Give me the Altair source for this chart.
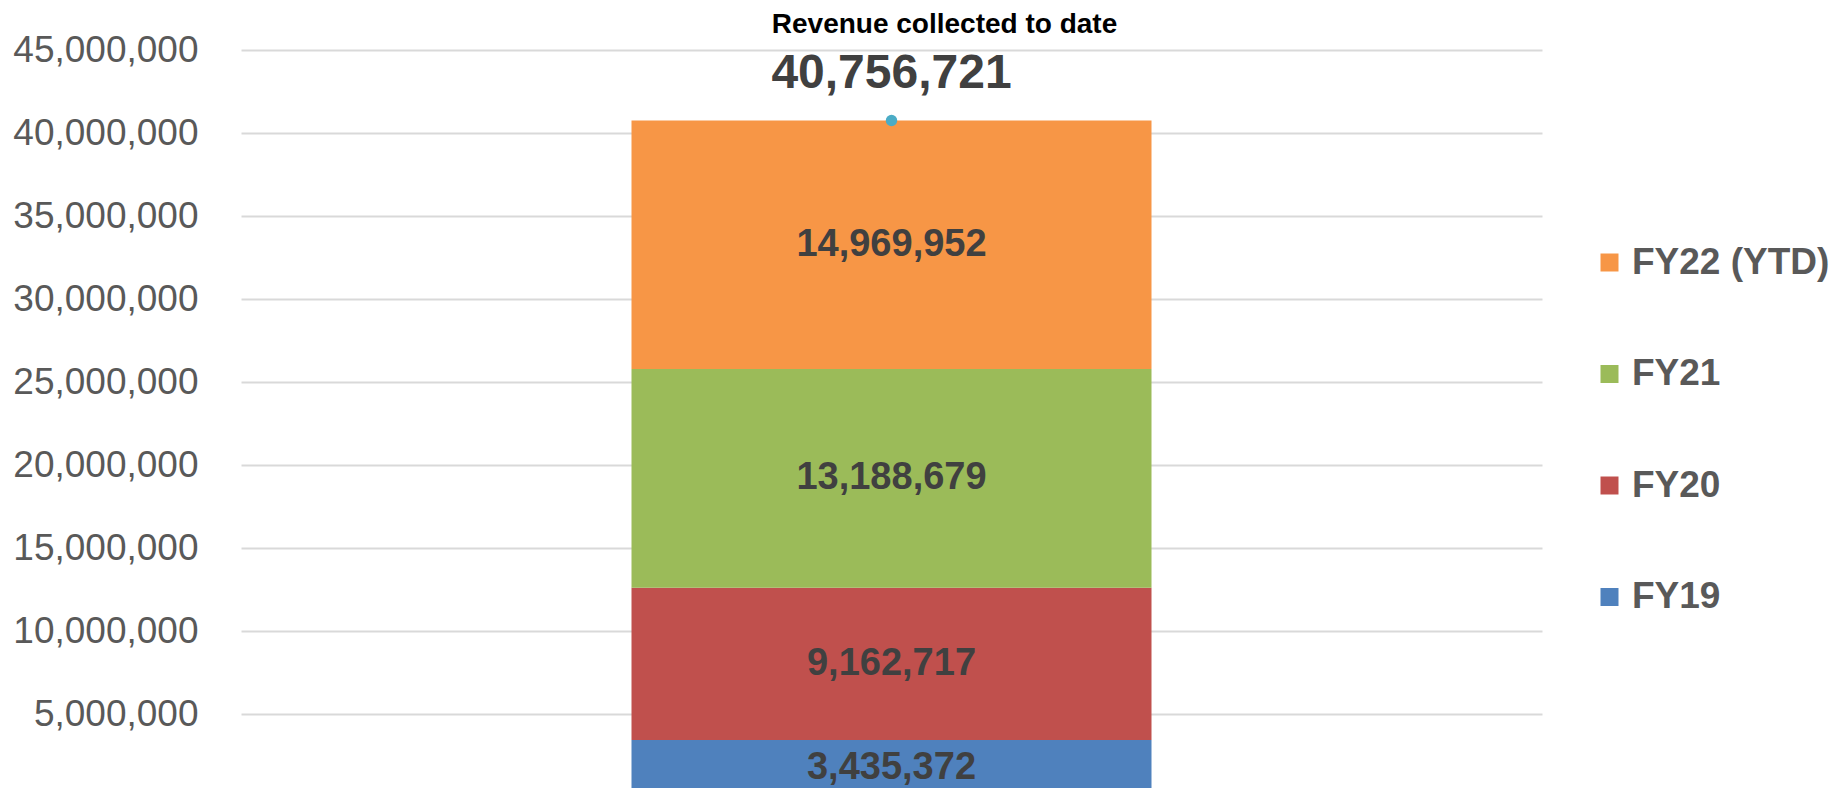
import altair as alt
import pandas as pd

categories = ["FY19", "FY20", "FY21", "FY22 (YTD)"]
values = [3435372, 9162717, 13188679, 14969952]
order_idx = [0, 1, 2, 3]
total_value = [40756721]
colors = ["#4F81BD", "#C0504D", "#9BBB59", "#F79646"]
tick_values = [5000000, 10000000, 15000000, 20000000, 25000000,
               30000000, 35000000, 40000000, 45000000]

df = pd.DataFrame({"grp": ["Revenue"] * len(categories),
                   "cat": categories, "value": values, "idx": order_idx})
df_total = pd.DataFrame({"grp": ["Revenue"], "total": total_value})

FONT = "Liberation Sans"

xenc = alt.X("grp:N", axis=None, title=None)
yscale = alt.Scale(domain=[0, 45000000], range=[747, 0], nice=False, zero=True)
yaxis = alt.Axis(values=tick_values, labelExpr="format(datum.value, ',')",
                 labelFontSize=37, labelColor="#595959", labelFont=FONT,
                 labelPadding=43, labelLimit=400, ticks=False, domain=False,
                 grid=True, gridColor="#D9D9D9", gridWidth=2, title=None)

stacked = alt.Chart(df).transform_stack(
    stack="value", groupby=["grp"], as_=["y0", "y1"],
    sort=[alt.SortField("idx", order="ascending")]
).transform_calculate(mid="(datum.y0 + datum.y1) / 2")

bars = stacked.mark_bar(size=520).encode(
    x=xenc,
    y=alt.Y("y0:Q", scale=yscale, axis=yaxis, title=None),
    y2="y1:Q",
    color=alt.Color("cat:N",
                    scale=alt.Scale(domain=categories[::-1], range=colors[::-1]),
                    legend=alt.Legend(title=None, orient="none", legendX=1350,
                                      legendY=194, symbolType="square",
                                      symbolSize=324, symbolStrokeWidth=0,
                                      labelFontSize=37, labelFontWeight="bold",
                                      labelColor="#595959", labelFont=FONT,
                                      labelOffset=4, labelLimit=400,
                                      rowPadding=73.5, padding=0)),
)

seg_text = stacked.mark_text(font=FONT, fontSize=38, fontWeight="bold",
                             color="#404040", baseline="middle").encode(
    x=xenc,
    y=alt.Y("mid:Q", scale=yscale, axis=yaxis, title=None),
    text=alt.Text("value:Q", format=","),
)

total = alt.Chart(df_total)

pt = total.mark_point(filled=True, size=130, color="#4BACC6", opacity=1).encode(
    x=xenc, y=alt.Y("total:Q", scale=yscale, axis=yaxis, title=None))

total_text = total.mark_text(font=FONT, fontSize=48, fontWeight="bold",
                             color="#404040", baseline="middle", dy=-46).encode(
    x=xenc, y=alt.Y("total:Q", scale=yscale, axis=yaxis, title=None),
    text=alt.Text("total:Q", format=","))

chart = alt.layer(bars, seg_text, pt, total_text).properties(
    width=1301, height=738,
    title=alt.TitleParams("Revenue collected to date", fontSize=28,
                          font=FONT, fontWeight="bold", color="#000000",
                          anchor="middle", dx=53, offset=-8),
    autosize=alt.AutoSizeParams(type="none"),
    padding={"left": 233, "top": 42, "right": 292, "bottom": 0},
).configure_view(stroke=None)

chart.save("out.html", embed_options={"renderer": "svg", "actions": False})
